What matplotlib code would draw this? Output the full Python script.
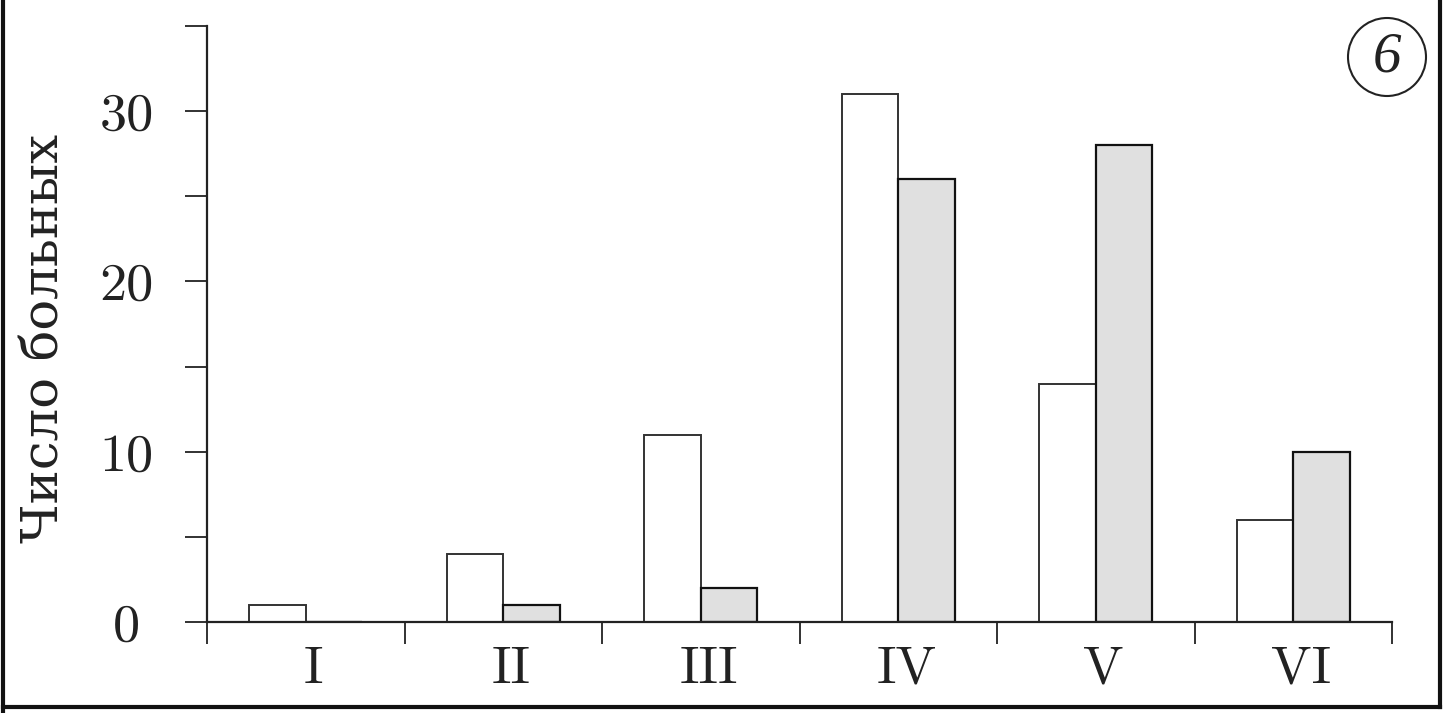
import matplotlib.pyplot as plt
from matplotlib.lines import Line2D
from matplotlib.patches import Ellipse
from matplotlib.ticker import FixedLocator
from matplotlib.transforms import ScaledTranslation
import numpy as np

# values
stages = ["I", "II", "III", "IV", "V", "VI"]
white_counts = [1, 4, 11, 31, 14, 6]
grey_counts = [0, 1, 2, 26, 28, 10]
y_major = [0, 10, 20, 30]
y_minor = [5, 15, 25, 35]
y_label = "Число больных"
panel_mark = "6"

NUM_FONT = ["cmr10", "DejaVu Serif"]
TEXT_FONT = ["DejaVu Serif"]

fig = plt.figure(figsize=(14.5, 7.13), dpi=100)
ax = fig.add_axes([207 / 1450, 1 - 622 / 713, (1392 - 207) / 1450, (622 - 26) / 713])

x = np.arange(len(stages))
w = 0.285
ax.bar(x - w / 2, white_counts, width=w, color="white",
       edgecolor="#333333", linewidth=1.4)
ax.bar(x + w / 2, grey_counts, width=w, color="#e0e0e0",
       edgecolor="#111111", linewidth=1.6)

ax.set_xlim(-0.5, len(stages) - 0.5)
ax.set_ylim(0, 35)

# spines
for side in ("top", "right"):
    ax.spines[side].set_visible(False)
for side in ("left", "bottom"):
    ax.spines[side].set_linewidth(1.6)
    ax.spines[side].set_color("#222222")

# y ticks
ax.yaxis.set_major_locator(FixedLocator(y_major))
ax.yaxis.set_minor_locator(FixedLocator(y_minor))
ax.set_yticklabels([str(v) for v in y_major])
ax.tick_params(axis="y", which="both", direction="out", length=16,
               width=1.3, color="#222222")
ax.tick_params(axis="y", which="major", pad=42)
for lbl in ax.get_yticklabels():
    lbl.set_family(NUM_FONT)
    lbl.set_fontsize(39)
    lbl.set_horizontalalignment("center")
    lbl.set_color("#222222")

# x ticks: labels at stage centres, marks at boundaries
ax.xaxis.set_major_locator(FixedLocator(x))
ax.xaxis.set_minor_locator(FixedLocator(np.arange(len(stages) + 1) - 0.5))
ax.set_xticklabels(stages)
ax.tick_params(axis="x", which="major", length=0, pad=17)
ax.tick_params(axis="x", which="minor", direction="out", length=16,
               width=1.3, color="#222222")
shift = ScaledTranslation(0.08, 0, fig.dpi_scale_trans)
for lbl in ax.get_xticklabels():
    lbl.set_family(NUM_FONT)
    lbl.set_fontsize(39)
    lbl.set_color("#222222")
    lbl.set_transform(lbl.get_transform() + shift)

ax.set_ylabel(y_label, family=TEXT_FONT, fontsize=37, color="#222222")
ax.yaxis.set_label_coords(-0.116, 0.475)

# circled panel number
fig.patches.append(Ellipse((1387 / 1450, 1 - 57 / 713), 78 / 1450, 78 / 713,
                           transform=fig.transFigure, fill=False,
                           edgecolor="#222222", linewidth=1.5))
fig.text(1387 / 1450, 1 - 57 / 713, panel_mark, family=["Liberation Serif"],
         style="italic", fontsize=41, ha="center", va="center",
         color="#222222")

# scanned page frame
frame = dict(color="#111111", linewidth=3, transform=fig.transFigure)
fig.lines.append(Line2D([3 / 1450, 3 / 1450], [0, 1], **frame))
fig.lines.append(Line2D([3 / 1450, 1440 / 1450], [1 - 707 / 713, 1 - 707 / 713], **frame))
fig.lines.append(Line2D([1440 / 1450, 1440 / 1450], [1 - 707 / 713, 1], **frame))

fig.savefig("out.png", dpi=100)
